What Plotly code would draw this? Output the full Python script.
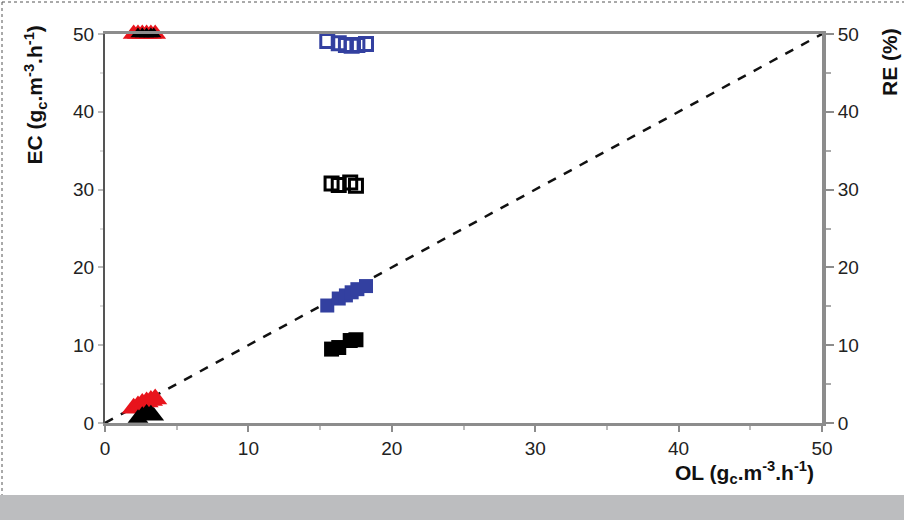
import plotly.graph_objects as go

# Data
ol_red_tri = [2.0, 2.3, 2.6, 2.9, 3.2, 3.5]
ec_red_tri = [1.9, 2.2, 2.5, 2.7, 2.9, 3.1]
re_red_tri = [50, 50, 50, 50, 50, 50]

ol_blk_tri = [2.3, 2.6, 2.9, 3.2, 3.4]
ec_blk_tri = [0.6, 1.0, 1.3, 1.2, 0.9]
re_blk_tri = [50, 50, 50, 50, 50]

ol_blu_sq = [15.5, 16.3, 16.8, 17.2, 17.6, 18.2]
ec_blu_sq = [15.1, 16.0, 16.4, 16.8, 17.2, 17.6]
re_blu_sq = [49.1, 48.8, 48.6, 48.5, 48.6, 48.7]

ol_blk_sq = [15.8, 16.3, 17.1, 17.5]
ec_blk_sq = [9.5, 9.7, 10.6, 10.7]
re_blk_sq = [30.8, 30.6, 30.9, 30.5]

diag = [0, 50]

RED = "#e8141c"
BLUE = "#3340a0"
BLACK = "#000000"

fig = go.Figure()

fig.add_trace(go.Scatter(x=diag, y=diag, mode="lines",
                         line=dict(color="#111", width=2.5, dash="dash"), showlegend=False))

# RE (right axis)
fig.add_trace(go.Scatter(x=ol_blu_sq, y=re_blu_sq, mode="markers", yaxis="y2",
                         marker=dict(symbol="square-open", size=13, color=BLUE, line=dict(width=3)),
                         cliponaxis=False, showlegend=False))
fig.add_trace(go.Scatter(x=ol_blk_sq, y=re_blk_sq, mode="markers", yaxis="y2",
                         marker=dict(symbol="square-open", size=13, color=BLACK, line=dict(width=3)),
                         cliponaxis=False, showlegend=False))
fig.add_trace(go.Scatter(x=ol_red_tri, y=re_red_tri, mode="markers", yaxis="y2",
                         marker=dict(symbol="triangle-up", size=19, color=RED),
                         cliponaxis=False, showlegend=False))
fig.add_trace(go.Scatter(x=ol_blk_tri, y=re_blk_tri, mode="markers", yaxis="y2",
                         marker=dict(symbol="triangle-up", size=13, color=BLACK),
                         cliponaxis=False, showlegend=False))

# EC (left axis)
fig.add_trace(go.Scatter(x=ol_blu_sq, y=ec_blu_sq, mode="markers",
                         marker=dict(symbol="square", size=14, color=BLUE),
                         cliponaxis=False, showlegend=False))
fig.add_trace(go.Scatter(x=ol_blk_sq, y=ec_blk_sq, mode="markers",
                         marker=dict(symbol="square", size=15, color=BLACK),
                         cliponaxis=False, showlegend=False))
fig.add_trace(go.Scatter(x=ol_red_tri, y=ec_red_tri, mode="markers",
                         marker=dict(symbol="triangle-up", size=21, color=RED),
                         cliponaxis=False, showlegend=False))
fig.add_trace(go.Scatter(x=ol_blk_tri, y=ec_blk_tri, mode="markers",
                         marker=dict(symbol="triangle-up", size=18, color=BLACK),
                         cliponaxis=False, showlegend=False))

tickfont = dict(family="Liberation Sans, Arial, sans-serif", size=19, color="#222")
titlefont = dict(family="Liberation Sans Narrow, Arial Narrow, Liberation Sans, sans-serif", size=21, color="#111")
axcol = "#8c8c8c"

fig.update_layout(
    width=904, height=520,
    margin=dict(l=105, r=82, t=34, b=97),
    paper_bgcolor="white", plot_bgcolor="white",
    xaxis=dict(range=[0, 50], tickvals=[0, 10, 20, 30, 40, 50], showgrid=False, zeroline=False,
               showline=True, linecolor=axcol, linewidth=3, mirror=True,
               ticks="outside", ticklen=6, tickwidth=2, tickcolor=axcol,
               minor=dict(dtick=5, ticks="outside", ticklen=4, tickcolor="#bbb", tickwidth=2),
               tickfont=tickfont),
    yaxis=dict(range=[0, 50], tickvals=[0, 10, 20, 30, 40, 50], showgrid=False, zeroline=False,
               showline=True, linecolor="#555", linewidth=2,
               ticks="outside", ticklen=5, tickwidth=2, tickcolor="#bbb",
               minor=dict(dtick=5, ticks="outside", ticklen=3, tickcolor="#ddd", tickwidth=2),
               tickfont=tickfont),
    yaxis2=dict(range=[0, 50], tickvals=[0, 10, 20, 30, 40, 50], overlaying="y", side="right",
                showgrid=False, zeroline=False, showline=True, linecolor=axcol, linewidth=4,
                ticks="outside", ticklen=8, tickwidth=2, tickcolor=axcol,
                minor=dict(dtick=5, ticks="outside", ticklen=5, tickcolor="#aaa", tickwidth=2),
                tickfont=tickfont),
)

def px(x):
    return (x - 105) / 717.0

def py(y):
    return (423 - y) / 389.0

fig.add_annotation(text="<b>EC (g<sub>c</sub>.m<sup>-3</sup>.h<sup>-1</sup>)</b>", xref="paper", yref="paper",
                   x=px(35), y=py(24), xanchor="center", yanchor="top", textangle=-90,
                   showarrow=False, font=titlefont)
fig.add_annotation(text="<b>RE (%)</b>", xref="paper", yref="paper",
                   x=px(889), y=py(26), xanchor="center", yanchor="top", textangle=-90,
                   showarrow=False, font=titlefont)
fig.add_annotation(text="<b>OL (g<sub>c</sub>.m<sup>-3</sup>.h<sup>-1</sup>)</b>", xref="paper", yref="paper",
                   x=px(816), y=py(472), xanchor="right", yanchor="middle",
                   showarrow=False, font=titlefont)

# gray band at bottom
fig.add_shape(type="rect", xref="paper", yref="paper", x0=px(0), x1=px(904), y0=py(495), y1=py(521),
              fillcolor="#bcbdbf", line=dict(width=0), layer="below")
# dotted frame
fig.add_shape(type="line", xref="paper", yref="paper", x0=px(2), x1=px(904), y0=py(2), y1=py(2),
              line=dict(color="#555", width=1, dash="dot"))
fig.add_shape(type="line", xref="paper", yref="paper", x0=px(2), x1=px(2), y0=py(2), y1=py(495),
              line=dict(color="#555", width=1, dash="dot"))

fig.write_html("out.html", config={"displayModeBar": False},
               post_script="document.body.style.margin='0';document.body.style.padding='0';")
